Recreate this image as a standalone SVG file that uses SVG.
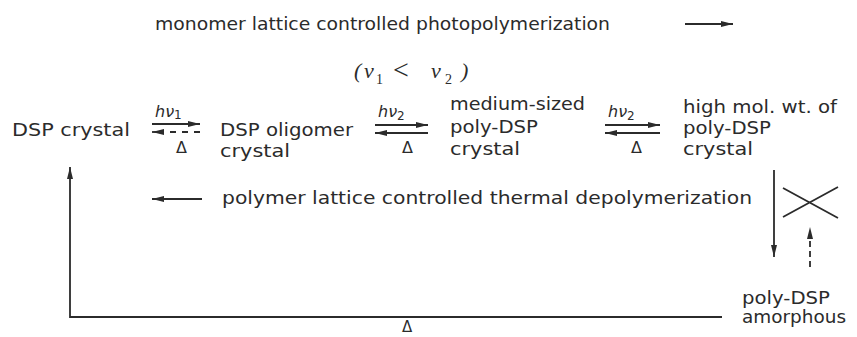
<svg xmlns="http://www.w3.org/2000/svg" width="857" height="337" viewBox="0 0 857 337">
<defs>
<style>
text{font-family:"DejaVu Sans","Liberation Sans",sans-serif;fill:#2b2b2b}
.lbl{font-size:18px}
.hv{font-size:16px;font-style:italic}
.sub{font-size:12px;font-style:normal}
.dl{font-size:16px}
.ser{font-family:"Liberation Serif","DejaVu Serif",serif;font-size:22px;font-style:italic}
.up{font-style:normal}
.ln{stroke:#2b2b2b;stroke-width:1.8;fill:none}
.hd{fill:#2b2b2b;stroke:none}
</style>
<marker id="ah" viewBox="0 0 12 6" refX="12" refY="3" markerWidth="12" markerHeight="6" markerUnits="userSpaceOnUse" orient="auto">
<path d="M0,0 L12,3 L0,6 Z" class="hd"/>
</marker>
</defs>
<rect width="857" height="337" fill="#fff"/>

<g id="title">
<text class="lbl" x="155" y="30" textLength="455" lengthAdjust="spacingAndGlyphs">monomer lattice controlled photopolymerization</text>
</g>
<g id="condition">
<text class="ser" x="354" y="78">(</text>
<text class="ser" x="364" y="78">ν</text>
<text class="ser up" x="376" y="84" style="font-size:14px">1</text>
<text class="ser up" x="393" y="79" style="font-size:28px">&lt;</text>
<text class="ser" x="431" y="78">ν</text>
<text class="ser up" x="445" y="84" style="font-size:14px">2</text>
<text class="ser" x="461" y="78">)</text>
</g>

<g id="dsp-crystal">
<text class="lbl" x="12" y="136" textLength="118" lengthAdjust="spacingAndGlyphs">DSP crystal</text>
</g>
<g id="dsp-oligomer">
<text class="lbl" x="220" y="136" textLength="133" lengthAdjust="spacingAndGlyphs">DSP oligomer</text>
<text class="lbl" x="220" y="157" textLength="70" lengthAdjust="spacingAndGlyphs">crystal</text>
</g>
<g id="medium-poly">
<text class="lbl" x="450" y="110" textLength="135" lengthAdjust="spacingAndGlyphs">medium-sized</text>
<text class="lbl" x="450" y="133" textLength="88" lengthAdjust="spacingAndGlyphs">poly-DSP</text>
<text class="lbl" x="450" y="155" textLength="70" lengthAdjust="spacingAndGlyphs">crystal</text>
</g>
<g id="high-poly">
<text class="lbl" x="683" y="113" textLength="154" lengthAdjust="spacingAndGlyphs">high mol. wt. of</text>
<text class="lbl" x="683" y="134" textLength="88" lengthAdjust="spacingAndGlyphs">poly-DSP</text>
<text class="lbl" x="683" y="155" textLength="70" lengthAdjust="spacingAndGlyphs">crystal</text>
</g>
<g id="amorphous">
<text class="lbl" x="742" y="304" textLength="88" lengthAdjust="spacingAndGlyphs">poly-DSP</text>
<text class="lbl" x="742" y="323" textLength="104" lengthAdjust="spacingAndGlyphs">amorphous</text>
</g>
<g id="thermal">
<text class="lbl" x="222" y="204" textLength="530" lengthAdjust="spacingAndGlyphs">polymer lattice controlled thermal depolymerization</text>
</g>
<g id="blocked">
<path class="ln" d="M783,188 L838,218 M783,217 L838,187"/>
</g>

<g id="connectors">
<path class="ln" d="M685,24 L733,24" marker-end="url(#ah)"/>
<!-- eq 1 -->
<path class="ln" d="M152,124 L200,124" marker-end="url(#ah)"/>
<path class="ln" d="M164,132 L152,132" marker-end="url(#ah)"/>
<path class="ln" d="M170,132 L200,132" stroke-dasharray="6,6"/>
<text x="155" y="117" class="hv">hν<tspan class="sub" dy="2">1</tspan></text>
<text x="176" y="153" class="dl">Δ</text>
<!-- eq 2 -->
<path class="ln" d="M375,125 L428,125" marker-end="url(#ah)"/>
<path class="ln" d="M428,133 L375,133" marker-end="url(#ah)"/>
<text x="378" y="117" class="hv">hν<tspan class="sub" dy="3">2</tspan></text>
<text x="402" y="153" class="dl">Δ</text>
<!-- eq 3 -->
<path class="ln" d="M605,125 L660,125" marker-end="url(#ah)"/>
<path class="ln" d="M660,133 L605,133" marker-end="url(#ah)"/>
<text x="608" y="117" class="hv">hν<tspan class="sub" dy="3">2</tspan></text>
<text x="631" y="153" class="dl">Δ</text>
<!-- reverse thermal -->
<path class="ln" d="M202,199 L152,199" marker-end="url(#ah)"/>
<!-- down to amorphous -->
<path class="ln" d="M774,170 L774,257" marker-end="url(#ah)"/>
<!-- blocked reverse -->
<path class="ln" d="M810,267 L810,227" stroke-dasharray="6,4" marker-end="url(#ah)"/>
<!-- bottom return -->
<path class="ln" d="M722,317 L70,317 L70,167" marker-end="url(#ah)"/>
<text x="402" y="332" class="dl" style="font-size:15px">Δ</text>
</g>
</svg>
